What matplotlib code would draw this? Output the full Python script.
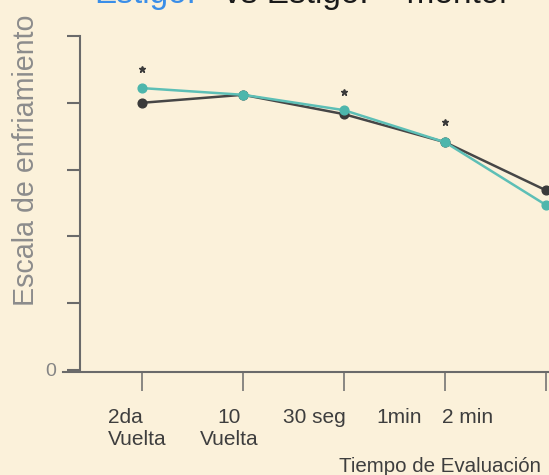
import matplotlib
matplotlib.use("Agg")
import matplotlib.pyplot as plt
import numpy as np

# ---- data ----
categories = ["2da\nVuelta", "10\nVuelta", "30 seg", "1min", "2 min"]
label_align = ["left", "center", "center", "center", "center"]
label_shift = [-0.05, -0.14, -0.29, -0.45, -0.78]   # label centre offsets (layout)
serie_negra = [4.00, 4.12, 3.83, 3.41, 2.69]
serie_turquesa = [4.22, 4.12, 3.89, 3.41, 2.47]
asteriscos = [4.50, np.nan, 4.16, 3.71, np.nan]
yticks = [0, 1, 2, 3, 4, 5]
ytick_labels = ["0", "", "", "", "", ""]
titulo_azul = "Estigo."
titulo_negro = "vs Estigo. + mentol"
ylabel = "Escala de enfriamiento"
xlabel = "Tiempo de Evaluación"

BG = "#FBF1DA"
AXC = "#6a6a6a"
plt.rcParams["font.family"] = ["Liberation Sans", "DejaVu Sans"]

W, H = 549, 475
fig = plt.figure(figsize=(W / 100, H / 100), dpi=100, facecolor=BG)
ax = fig.add_axes([80 / W, 1 - 370 / H, 1 - 80 / W, 334 / H])
ax.set_facecolor(BG)

x = np.arange(len(categories))
ax.plot(x, serie_negra, color="#464646", lw=1.8, marker="o", ms=6.3,
        mfc="#3a3a3a", mec="#3a3a3a", zorder=3, clip_on=False)
ax.plot(x, serie_turquesa, color="#5DBFB6", lw=1.8, marker="o", ms=6.3,
        mfc="#4DB6AC", mec="#4DB6AC", zorder=4, clip_on=False)
ax.plot(x, asteriscos, ls="none", marker="*", ms=5, color="#3a3a3a",
        zorder=5, clip_on=False)

ax.set_xlim(-0.614, 4.03)
ax.set_ylim(0, 5)

for s in ["top", "right"]:
    ax.spines[s].set_visible(False)
for s in ["left", "bottom"]:
    ax.spines[s].set_color(AXC)
    ax.spines[s].set_linewidth(1.5)
ax.spines["bottom"].set_position(("outward", 1.4))
ax.spines["bottom"].set_bounds(-0.78, 4.03)

ax.set_yticks(yticks)
ax.set_yticklabels(ytick_labels, fontsize=14, color="#858585")
ax.tick_params(axis="y", direction="out", length=9.4, width=1.5, color=AXC, pad=8)
ax.set_xticks(x)
ax.set_xticklabels([])
ax.tick_params(axis="x", direction="out", length=13.7, width=1.1, color=AXC)

for i, (lab, al, sh) in enumerate(zip(categories, label_align, label_shift)):
    ax.text(i + sh, -0.114, lab, transform=ax.get_xaxis_transform(),
            ha="center", va="top", multialignment=al, fontsize=15,
            color="#3e3e3e", linespacing=1.22)

fig.text(541 / W, 0.006, xlabel, ha="right", va="baseline", fontsize=14.8,
         color="#3e3e3e")
fig.text(26 / W, 1 - 160.5 / H, ylabel, rotation=90, ha="center", va="center",
         fontsize=20.6, color="#8c8c8c")

fig.text(94 / W, 1 - 3 / H, titulo_azul, ha="left", va="baseline",
         fontsize=24, color="#3a8ee8")
fig.text(224 / W, 1 - 3 / H, titulo_negro, ha="left", va="baseline",
         fontsize=24, color="#1a1a1a")

fig.savefig("out.png", dpi=100, facecolor=BG)
